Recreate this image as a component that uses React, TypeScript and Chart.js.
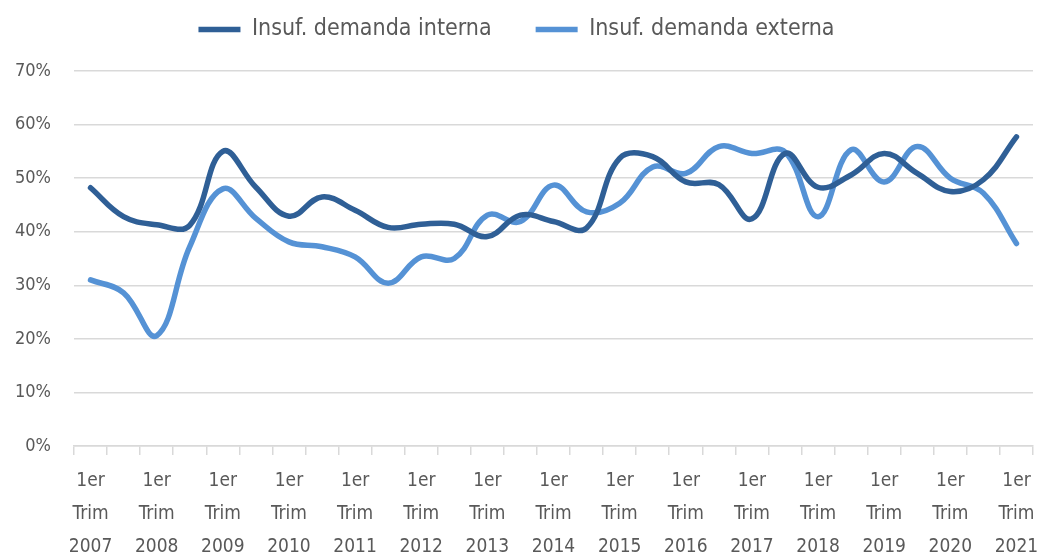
import React, { useEffect, useRef } from "react";
import { Chart, registerables } from "chart.js";

Chart.register(...registerables);

const categories: string[] = [
  "1er Trim 2007", "", "1er Trim 2008", "", "1er Trim 2009", "", "1er Trim 2010", "",
  "1er Trim 2011", "", "1er Trim 2012", "", "1er Trim 2013", "", "1er Trim 2014", "",
  "1er Trim 2015", "", "1er Trim 2016", "", "1er Trim 2017", "", "1er Trim 2018", "",
  "1er Trim 2019", "", "1er Trim 2020", "", "1er Trim 2021",
];

const demandaInterna: number[] = [
  48.2, 42.8, 41.3, 41.2, 55.0, 48.3, 42.9, 46.5, 44.0, 40.8,
  41.4, 41.4, 39.1, 43.1, 41.9, 40.7, 53.7, 54.0, 49.3, 48.8,
  42.4, 54.6, 48.3, 50.6, 54.6, 50.9, 47.5, 49.7, 57.7,
];

const demandaExterna: number[] = [
  31.0, 28.6, 20.6, 37.2, 48.0, 42.5, 38.1, 37.2, 35.3, 30.4,
  35.3, 35.0, 43.1, 41.9, 48.7, 43.7, 45.3, 52.1, 50.9, 55.9,
  54.6, 54.9, 42.8, 55.3, 49.3, 55.9, 50.0, 47.2, 37.8,
];

const seriesNames = ["Insuf. demanda interna", "Insuf. demanda externa"];
const yTicks = [0, 10, 20, 30, 40, 50, 60, 70];

const FONT = "'Liberation Sans Narrow', 'DejaVu Sans Condensed', 'Roboto', sans-serif";
const TEXT = "#595959";

const legendMargin = {
  id: "legendMargin",
  beforeInit(chart: any) {
    const legend = chart.legend;
    const orig = legend.fit;
    legend.fit = function () {
      orig.bind(legend)();
      this.height = 97;
    };
  },
};

export default function App() {
  const ref = useRef<HTMLCanvasElement | null>(null);
  useEffect(() => {
    if (!ref.current) return;
    const chart = new Chart(ref.current, {
      type: "line",
      plugins: [legendMargin],
      data: {
        labels: categories,
        datasets: [
          {
            label: seriesNames[0],
            data: demandaInterna,
            borderColor: "#2F5F96",
            backgroundColor: "#2F5F96",
            borderWidth: 5.5,
            pointRadius: 0,
            tension: 0.4,
            borderCapStyle: "round",
            borderJoinStyle: "round",
          },
          {
            label: seriesNames[1],
            data: demandaExterna,
            borderColor: "#5592D5",
            backgroundColor: "#5592D5",
            borderWidth: 5.5,
            pointRadius: 0,
            tension: 0.4,
            borderCapStyle: "round",
            borderJoinStyle: "round",
          },
        ],
      },
      options: {
        animation: false,
        responsive: true,
        maintainAspectRatio: false,
        layout: { padding: { left: 0, right: 4, top: -26, bottom: 0 } },
        plugins: {
          legend: {
            position: "top",
            labels: {
              usePointStyle: true,
              pointStyle: "line",
              pointStyleWidth: 42,
              boxHeight: 18,
              color: TEXT,
              font: { family: FONT, size: 23 },
              padding: 44,
            },
          },
          tooltip: { enabled: false },
        },
        scales: {
          x: {
            offset: true,
            afterFit: (axis: any) => {
              axis.height = 109;
              axis.paddingLeft = 0;
              axis.paddingRight = 0;
            },
            grid: {
              offset: true,
              drawOnChartArea: false,
              drawTicks: true,
              tickLength: 9,
              color: "#D9D9D9",
              lineWidth: 1.5,
            },
            border: { display: true, color: "#D9D9D9", width: 1.5 },
            ticks: {
              autoSkip: false,
              maxRotation: 0,
              minRotation: 0,
              color: TEXT,
              padding: 10,
              font: { family: FONT, size: 19, lineHeight: 1.72 },
              callback: (_v: any, i: number) => {
                const s = categories[i];
                return s ? s.split(" ") : "";
              },
            },
          },
          y: {
            min: 0,
            max: 70,
            afterFit: (axis: any) => {
              axis.width = 74;
            },
            afterBuildTicks: (axis: any) => {
              axis.ticks = yTicks.map((v) => ({ value: v }));
            },
            grid: { color: "#D9D9D9", lineWidth: 1.5, drawTicks: false },
            border: { display: false },
            ticks: {
              color: TEXT,
              padding: 23,
              font: { family: FONT, size: 18 },
              callback: (v: any) => v + "%",
            },
          },
        },
      },
    });
    return () => chart.destroy();
  }, []);
  return (
    <div style={{ position: "fixed", left: 0, top: 0, width: "1037px", height: "555px", background: "#fff" }}>
      <canvas ref={ref} />
    </div>
  );
}
